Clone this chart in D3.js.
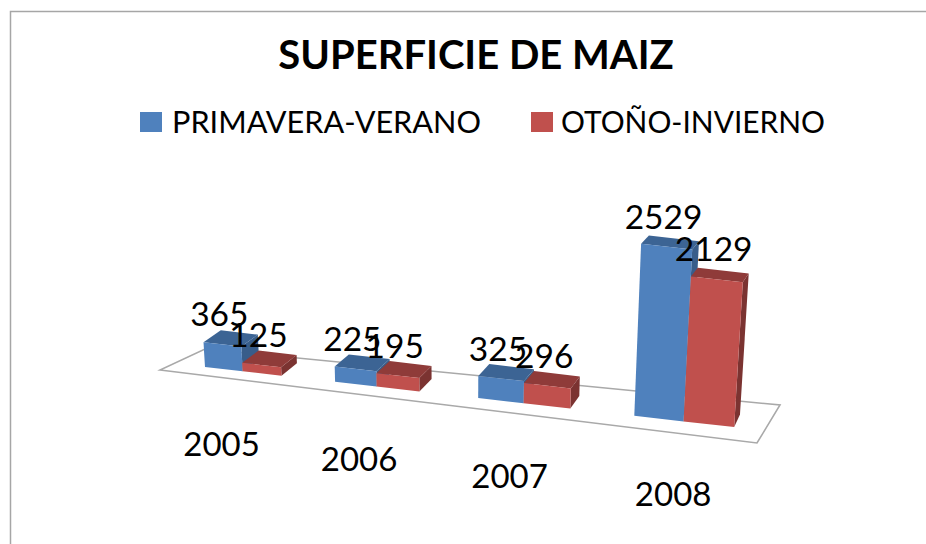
<!DOCTYPE html>
<html><head><meta charset="utf-8">
<script src="https://cdnjs.cloudflare.com/ajax/libs/d3/7.8.5/d3.min.js"></script>
<style>html,body{margin:0;background:#fff}svg{display:block}text{font-family:Lato,"Open Sans",sans-serif;fill:#000}</style>
</head><body><svg id="c" width="926" height="544"></svg>
<script>
const title = "SUPERFICIE DE MAIZ";
const categories = ["2005","2006","2007","2008"];
const seriesNames = ["PRIMAVERA-VERANO","OTOÑO-INVIERNO"];
const primaveraVerano = [365,225,325,2529];
const otonoInvierno = [125,195,296,2129];
const seriesValues = [primaveraVerano, otonoInvierno];
const colors = [
  {front:"#4f81bd",top:"#3c6494",side:"#385d8a"},
  {front:"#c0504d",top:"#8f3b39",side:"#7b3331"}
];

const svg = d3.select("#c");
// Chart frame (no right/bottom edge visible in the crop)
svg.append("path").attr("d","M10.5,544V11.5H926").attr("fill","none").attr("stroke","#a6a6a6").attr("stroke-width",1.5);

// Perspective helpers: u runs along the category axis, d along the depth axis.
const xBand = d3.scaleBand().domain(categories).range([0,4]).paddingInner(0.4).paddingOuter(0.2);
const xFront = u => 180.5 + 121*u + 6.5*u*u;
const yFront = d3.scaleLinear().domain([205,733]).range([367,427]);
const height = d3.scaleLinear().domain([0,2529]).range([0,172]);
const lean = d3.scaleLinear().domain([0.5,3.5]).range([-0.05,0.05]);
const depthX = d3.scaleLinear().domain([0,4]).range([18,5.2]);

function P(u,d,v){
  const h = height(v);
  const x0 = xFront(u), y0 = yFront(x0);
  return [x0 + d*depthX(u) + h*lean(u), y0 + d*(-12.5 + h*0.025) - h];
}
const line = pts => "M"+pts.map(p=>p[0].toFixed(1)+","+p[1].toFixed(1)).join("L")+"Z";

// Floor
svg.append("path").attr("d",line([[160,370],[757,443],[780,405],[205,349]]))
  .attr("fill","#fff").attr("stroke","#a9a9a9").attr("stroke-width",1.6);

// Bars
const barW = xBand.bandwidth()/2;
categories.forEach((c,i)=>{
  seriesValues.forEach((vals,s)=>{
    const v = vals[i], u0 = xBand(c)+s*barW, u1 = u0+barW, col = colors[s];
    const g = svg.append("g");
    g.append("path").attr("d",line([P(u1,0,0),P(u1,1,0),P(u1,1,v),P(u1,0,v)])).attr("fill",col.side);
    g.append("path").attr("d",line([P(u0,0,v),P(u1,0,v),P(u1,1,v),P(u0,1,v)])).attr("fill",col.top);
    g.append("path").attr("d",line([P(u0,0,0),P(u1,0,0),P(u1,0,v),P(u0,0,v)])).attr("fill",col.front);
  });
});

// Value labels
categories.forEach((c,i)=>{
  seriesValues.forEach((vals,s)=>{
    const v = vals[i], u = xBand(c)+(s+0.5)*barW, p = P(u,0,v);
    svg.append("text").attr("x",p[0]-3).attr("y",p[1]-18).attr("text-anchor","middle")
      .attr("font-size",33.5).text(v);
  });
  // Category labels
  const uc = xBand(c)+barW, q = P(uc,-1.1,0);
  svg.append("text").attr("x",q[0]-3).attr("y",q[1]+71).attr("text-anchor","middle")
    .attr("font-size",33).text(c);
});

// Title
svg.append("text").attr("x",476).attr("y",69).attr("text-anchor","middle")
  .attr("font-size",40).attr("font-weight",700).text(title);

// Legend
const legendX = [140,531], legendTextX = [172,561], legendLen = [309,264];
seriesNames.forEach((n,i)=>{
  svg.append("rect").attr("x",legendX[i]).attr("y",112).attr("width",22).attr("height",20).attr("fill",colors[i].front);
  svg.append("text").attr("x",legendTextX[i]).attr("y",133).attr("font-size",30)
    .attr("textLength",legendLen[i]).attr("lengthAdjust","spacingAndGlyphs").text(n);
});
</script></body></html>
